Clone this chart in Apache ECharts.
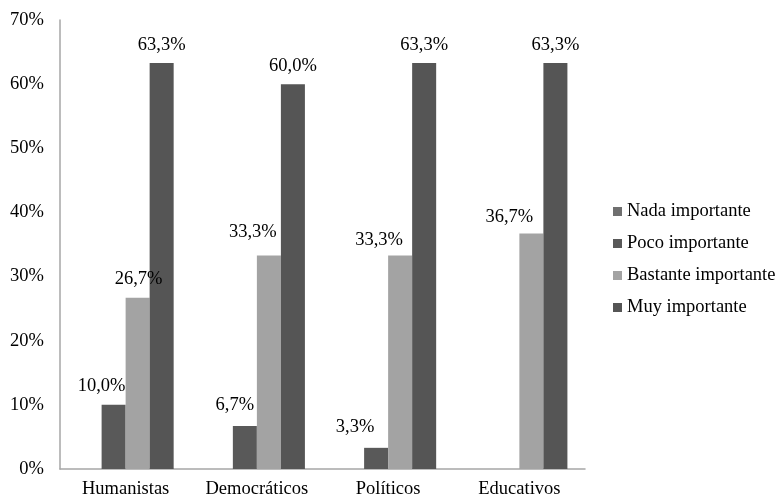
<!DOCTYPE html>
<html><head><meta charset="utf-8">
<script src="https://cdn.jsdelivr.net/npm/echarts@6/dist/echarts.min.js"></script>
<style>html,body{margin:0;padding:0;background:#fff}#c{width:782px;height:499px}</style>
</head><body><div id="c"></div>
<script>
const categories = ['Humanistas', 'Democráticos', 'Políticos', 'Educativos'];
const seriesNames = ['Nada importante', 'Poco importante', 'Bastante importante', 'Muy importante'];
const nada = [null, null, null, null];
const poco = [10.0, 6.7, 3.3, null];
const bastante = [26.7, 33.3, 33.3, 36.7];
const muy = [63.3, 60.0, 63.3, 63.3];
const yTicks = [0, 10, 20, 30, 40, 50, 60, 70];

const font = 'Liberation Serif, Times New Roman, serif';
const fmt = p => p.value == null ? '' : p.value.toFixed(1).replace('.', ',') + '%';
const colors = ['#6f6f6f', '#595959', '#a3a3a3', '#555555'];
const datas = [nada, poco, bastante, muy];
// per-label nudges (pixels) mirroring the hand-placed labels of the original
const labelNudges = [
  [[0, 0], [0, 0], [0, 0], [0, 0]],
  [[-12, -7], [-10, -9], [-21, -9], [0, 0]],
  [[1, -7], [-16, -12], [-21, -4], [-22, -5]],
  [[0, -6], [0, -7], [0, -6], [0, -6]]
];
const fs = 18.5;

const chart = echarts.init(document.getElementById('c'));
chart.setOption({
  animation: false,
  textStyle: { fontFamily: font },
  grid: { left: 60, right: 197, top: 20, bottom: 30 },
  legend: {
    orient: 'vertical', left: 608, top: 197, itemWidth: 9, itemHeight: 9, itemGap: 13,
    icon: 'rect',
    textStyle: { fontFamily: font, fontSize: fs, color: '#000' },
    data: seriesNames
  },
  xAxis: {
    type: 'category', data: categories,
    axisLine: { lineStyle: { color: '#a6a6a6', width: 1.5 } },
    axisTick: { show: false },
    axisLabel: { interval: 0, fontFamily: font, fontSize: fs, color: '#000', margin: 11 }
  },
  yAxis: {
    type: 'value', min: yTicks[0], max: yTicks[yTicks.length - 1], interval: 10,
    axisLine: { show: true, lineStyle: { color: '#a6a6a6', width: 1.5 } },
    axisTick: { show: false },
    splitLine: { show: false },
    axisLabel: { fontFamily: font, fontSize: fs, color: '#000', margin: 16, formatter: v => v + '%' }
  },
  series: seriesNames.map((n, i) => ({
    name: n, type: 'bar', barWidth: '18.3%', barGap: '0%', barCategoryGap: '26.8%',
    data: datas[i].map((v, j) => ({ value: v, label: { offset: labelNudges[i][j] } })),
    itemStyle: { color: colors[i] },
    label: { show: true, position: 'top', distance: 2, formatter: fmt,
      fontFamily: font, fontSize: fs, color: '#000' }
  }))
});
</script></body></html>
